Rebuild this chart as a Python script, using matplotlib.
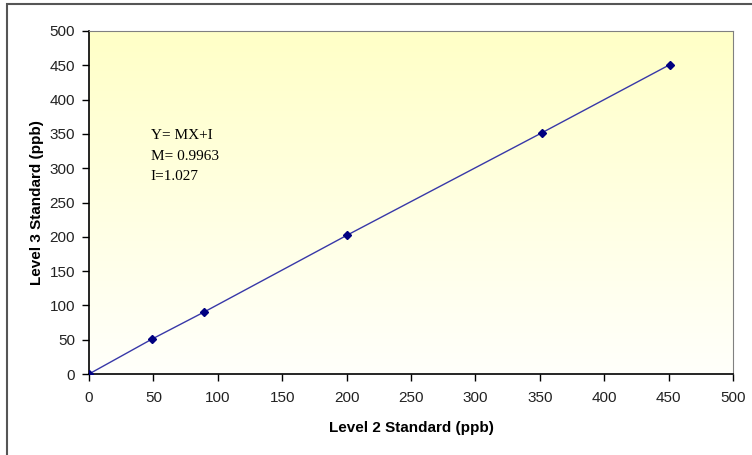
import numpy as np
import matplotlib.pyplot as plt
from matplotlib.patches import Rectangle

# calibration data
level2 = [0, 49, 89, 200, 352, 451]
level3 = [0, 51, 90, 202, 352, 451]
ticks = [0, 50, 100, 150, 200, 250, 300, 350, 400, 450, 500]

fig = plt.figure(figsize=(7.52, 4.55), dpi=100)
plt.rcParams['font.family'] = ['Liberation Sans', 'DejaVu Sans']

# outer chart-area frame, cut off at right and bottom like the screenshot
fig.patches.append(Rectangle((7 / 752, -0.1), 2, 1.1 - 4 / 455, transform=fig.transFigure,
                             fill=False, edgecolor='#555555', linewidth=1.5))

ax = fig.add_axes([89 / 752, 81 / 455, 644 / 752, 343 / 455])

# yellow-to-white gradient background
grad = np.linspace(0, 1, 256).reshape(-1, 1)
top = np.array([1.0, 1.0, 0.78])
bottom = np.array([1.0, 1.0, 0.985])
img = top * (1 - grad[:, :, None]) + bottom * grad[:, :, None]
ax.imshow(img, extent=[0, 500, 0, 500], aspect='auto', origin='upper', zorder=0)

ax.plot(level2, level3, color='#3838a8', linewidth=1, zorder=2)
ax.plot(level2, level3, linestyle='none', marker='D', markersize=4.5,
        color='#000080', zorder=3)

ax.set_xlim(0, 500)
ax.set_ylim(0, 500)
ax.set_xticks(ticks)
ax.set_yticks(ticks)
ax.tick_params(labelsize=11, length=5, width=1, color='black', labelcolor='#222222')
ax.tick_params(axis='x', pad=7)
ax.tick_params(axis='y', pad=5)

for side in ['top', 'right']:
    ax.spines[side].set_color('#808080')
for side in ['left', 'bottom']:
    ax.spines[side].set_color('black')
    ax.spines[side].set_linewidth(1.2)

ax.set_xlabel('Level 2 Standard (ppb)', fontsize=11, fontweight='bold', labelpad=12)
ax.set_ylabel('Level 3 Standard (ppb)', fontsize=11, fontweight='bold', labelpad=4)

ax.text(48, 357, 'Y= MX+I\nM= 0.9963\nI=1.027', family=['Liberation Serif', 'DejaVu Serif'],
        fontsize=11, va='top', ha='left', linespacing=1.75)

fig.savefig('out.png', dpi=100)
